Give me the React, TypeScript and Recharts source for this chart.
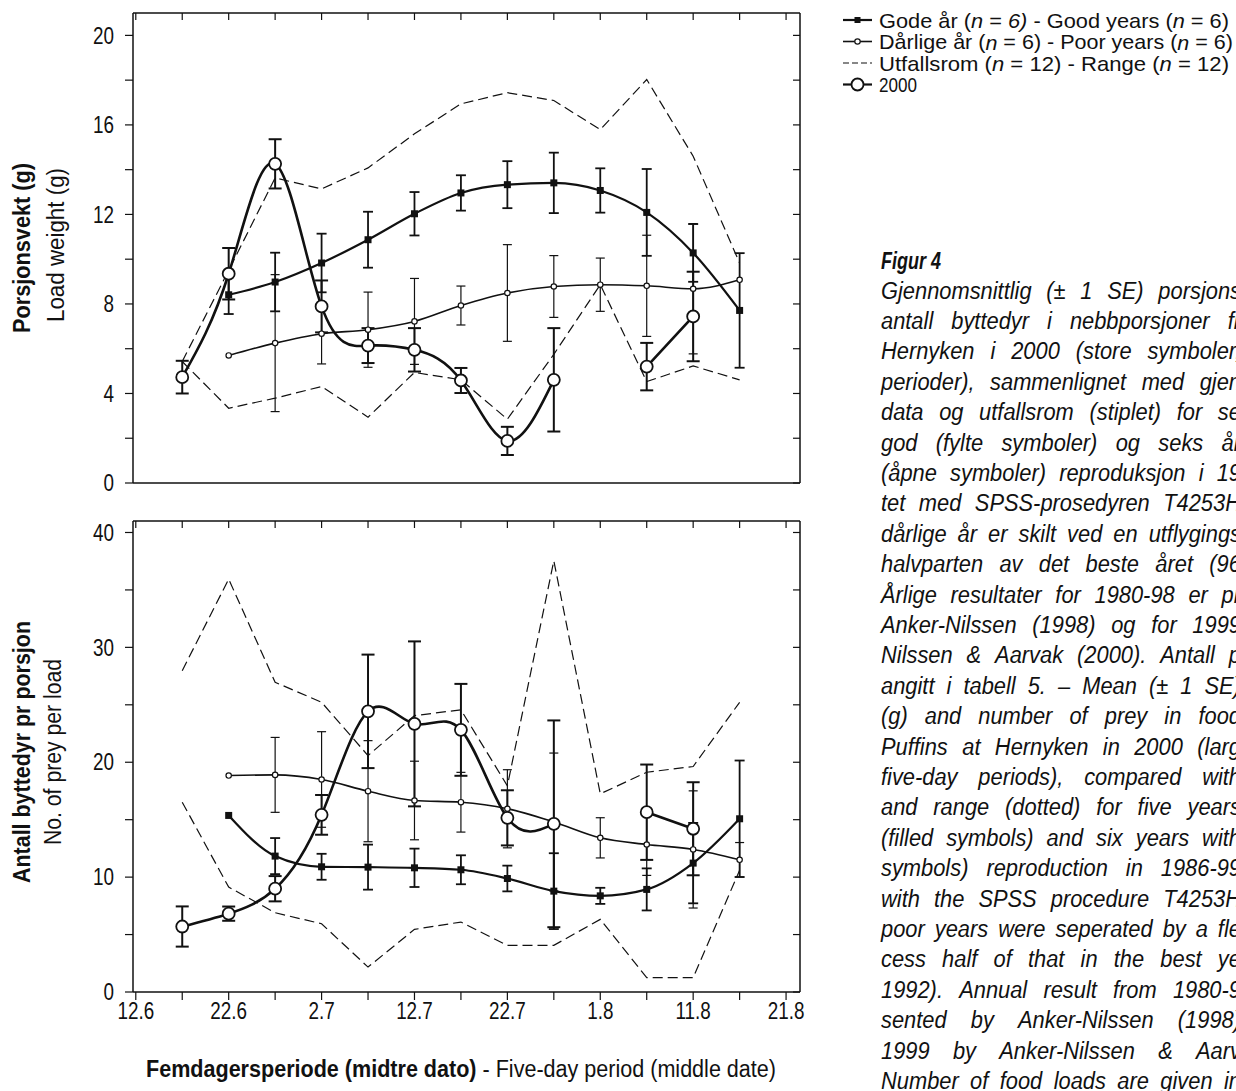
import React from 'react';
import { LineChart, Line, XAxis, YAxis, ErrorBar } from 'recharts';

const FONT = "'Liberation Sans Narrow', 'Arial Narrow', 'Liberation Sans', Arial, sans-serif";
const INK = '#111';
const NARROW = 0.82;
const CAPTION_SCALE = 0.95;

// five-day periods, x = days after 12.6
const periodDays = [5, 10, 15, 20, 25, 30, 35, 40, 45, 50, 55, 60, 65];

const xTicks = [0, 5, 10, 15, 20, 25, 30, 35, 40, 45, 50, 55, 60, 65, 70];
const xTickLabels = ['12.6', '', '22.6', '', '2.7', '', '12.7', '', '22.7', '', '1.8', '', '11.8', '', '21.8'];
const X_DOMAIN: [number, number] = [-0.3, 71.5];

const weightTicks = [0, 2, 4, 6, 8, 10, 12, 14, 16, 18, 20];
const weightTickLabels = ['0', '', '4', '', '8', '', '12', '', '16', '', '20'];
const preyTicks = [0, 5, 10, 15, 20, 25, 30, 35, 40];
const preyTickLabels = ['0', '', '10', '', '20', '', '30', '', '40'];

// Porsjonsvekt (g) - load weight
const weightGood = [null, 8.41, 8.98, 9.83, 10.87, 12.03, 12.96, 13.33, 13.41, 13.07, 12.09, 10.28, 7.71];
const weightGoodSE = [null, 0.86, 1.31, 1.31, 1.25, 0.97, 0.79, 1.05, 1.35, 0.99, 1.94, 1.29, 2.56];
const weightPoor = [null, 5.7, 6.25, 6.67, 6.85, 7.22, 7.93, 8.49, 8.78, 8.86, 8.81, 8.68, 9.08];
const weightPoorSE = [null, 0, 3.06, 1.35, 1.68, 1.92, 0.87, 2.16, 1.38, 1.19, 2.26, 2.91, 0];
const weight2000 = [4.73, 9.35, 14.26, 7.89, 6.14, 5.95, 4.58, 1.88, 4.61, null, 5.2, 7.44, null];
const weight2000SE = [0.73, 1.15, 1.1, 1.16, 0.78, 0.97, 0.56, 0.63, 2.31, null, 1.06, 2.0, null];
const weightMax = [5.43, 9.5, 13.63, 13.14, 14.08, 15.6, 16.94, 17.44, 17.09, 15.79, 18.03, 14.6, 9.83];
const weightMin = [5.43, 3.34, 3.79, 4.31, 2.94, 4.94, 4.61, 2.85, 5.75, 8.86, 4.53, 5.23, 4.61];

// Antall byttedyr pr porsjon - prey per load
const preyGood = [null, 15.37, 11.83, 10.9, 10.87, 10.81, 10.64, 9.88, 8.78, 8.37, 8.93, 11.22, 15.08];
const preyGoodSE = [null, 0, 1.57, 1.13, 1.96, 1.67, 1.26, 1.12, 3.3, 0.7, 1.83, 3.5, 5.07];
const preyPoor = [null, 18.84, 18.9, 18.5, 17.48, 16.67, 16.52, 15.95, 14.8, 13.42, 12.84, 12.41, 11.51];
const preyPoorSE = [null, 0, 3.26, 4.16, 4.4, 3.42, 2.6, 3.4, 6.0, 1.75, 2.69, 5.1, 1.5];
const prey2000 = [5.7, 6.82, 8.99, 15.42, 24.43, 23.34, 22.82, 15.16, 14.64, null, 15.65, 14.21, null];
const prey2000SE = [1.75, 0.62, 1.1, 1.73, 4.94, 7.18, 4.0, 2.4, 9.0, null, 4.15, 4.05, null];
const preyMax = [27.97, 35.94, 26.96, 25.22, 20.58, 24.06, 24.56, 17.95, 37.54, 17.25, 19.13, 19.63, 25.22];
const preyMin = [16.52, 9.13, 6.9, 5.94, 2.17, 5.45, 6.09, 4.06, 4.06, 6.32, 1.25, 1.25, 10.6];

const captionLines = [
  'Gjennomsnittlig (± 1 SE) porsjons',
  'antall byttedyr i nebbporsjoner fr',
  'Hernyken i 2000 (store symboler,',
  'perioder), sammenlignet med gjen',
  'data og utfallsrom (stiplet) for se',
  'god (fylte symboler) og seks år',
  '(åpne symboler) reproduksjon i 19',
  'tet med SPSS-prosedyren T4253H',
  'dårlige år er skilt ved en utflygings',
  'halvparten av det beste året (96',
  'Årlige resultater for 1980-98 er pr',
  'Anker-Nilssen (1998) og for 1999',
  'Nilssen & Aarvak (2000). Antall p',
  'angitt i tabell 5. – Mean (± 1 SE)',
  '(g) and number of prey in food',
  'Puffins at Hernyken in 2000 (larg',
  'five-day periods), compared with',
  'and range (dotted) for five years',
  '(filled symbols) and six years with',
  'symbols) reproduction in 1986-99',
  'with the SPSS procedure T4253H',
  'poor years were seperated by a fle',
  'cess half of that in the best ye',
  '1992). Annual result from 1980-9',
  'sented by Anker-Nilssen (1998)',
  '1999 by Anker-Nilssen & Aarv',
  'Number of food loads are given in',
];

const buildRows = (good: any[], goodSE: any[], poor: any[], poorSE: any[], y2000: any[], se2000: any[], hi: number[], lo: number[]) =>
  periodDays.map((day, i) => ({
    day,
    good: good[i],
    goodSE: goodSE[i],
    poor: poor[i],
    poorSE: poorSE[i],
    y2000: y2000[i],
    se2000: se2000[i],
    hi: hi[i],
    lo: lo[i],
  }));

const weightRows = buildRows(weightGood, weightGoodSE, weightPoor, weightPoorSE, weight2000, weight2000SE, weightMax, weightMin);
const preyRows = buildRows(preyGood, preyGoodSE, preyPoor, preyPoorSE, prey2000, prey2000SE, preyMax, preyMin);

const SquareDot = (props: any) => {
  const { cx, cy, index } = props;
  if (cx == null || cy == null) return <g key={`sq-${index}`} />;
  return <rect key={`sq-${index}`} x={cx - 3.5} y={cy - 3.5} width={7} height={7} fill={INK} />;
};

// tick labels drawn a little condensed, like the narrow face of the original
const makeTick = (values: number[], labels: string[], bottom: boolean) => (props: any) => {
  const { x, y, payload, textAnchor } = props;
  const label = labels[values.indexOf(payload.value)] ?? '';
  if (!label) return <g />;
  return (
    <g transform={`translate(${x},${y}) scale(${NARROW},1)`}>
      <text x={0} y={0} dy={bottom ? '0.71em' : '0.355em'} textAnchor={textAnchor} fontSize={23} fontFamily={FONT} fill={INK}>
        {label}
      </text>
    </g>
  );
};

const XTick = makeTick(xTicks, xTickLabels, true);
const WeightTick = makeTick(weightTicks, weightTickLabels, false);
const PreyTick = makeTick(preyTicks, preyTickLabels, false);

const axisLine = { stroke: INK, strokeWidth: 1.5 };
const tickLine = { stroke: INK, strokeWidth: 1.2 };

interface PanelProps {
  rows: any[];
  top: number;
  height: number;
  marginTop: number;
  marginBottom: number;
  yDomain: [number, number];
  yTicks: number[];
  yTick: any;
  showXLabels: boolean;
}

function Panel({ rows, top, height, marginTop, marginBottom, yDomain, yTicks, yTick, showXLabels }: PanelProps) {
  const blank = () => '';
  return (
    <div style={{ position: 'absolute', left: 0, top }}>
      <LineChart width={830} height={height} data={rows} margin={{ top: marginTop, right: 30, bottom: marginBottom, left: 73 }}>
        <XAxis dataKey="day" type="number" domain={X_DOMAIN} ticks={xTicks} interval={0} allowDataOverflow
          tick={showXLabels ? XTick : false} tickSize={8} tickMargin={3} height={30} axisLine={axisLine} tickLine={tickLine} />
        <XAxis xAxisId="top" orientation="top" mirror dataKey="day" type="number" domain={X_DOMAIN} ticks={xTicks}
          interval={0} allowDataOverflow tickFormatter={blank} tickSize={7} axisLine={axisLine} tickLine={tickLine} />
        <YAxis type="number" domain={yDomain} ticks={yTicks} interval={0} allowDataOverflow tick={yTick}
          width={60} tickSize={8} tickMargin={11} axisLine={axisLine} tickLine={tickLine} />
        <YAxis yAxisId="right" orientation="right" mirror type="number" domain={yDomain} ticks={yTicks} interval={0}
          allowDataOverflow tickFormatter={blank} tickSize={7} axisLine={axisLine} tickLine={tickLine} />

        <Line dataKey="hi" type="linear" stroke={INK} strokeWidth={1.2} strokeDasharray="10 5" dot={false} isAnimationActive={false} />
        <Line dataKey="lo" type="linear" stroke={INK} strokeWidth={1.2} strokeDasharray="10 5" dot={false} isAnimationActive={false} />

        <Line dataKey="poor" type="monotone" stroke={INK} strokeWidth={1.6} isAnimationActive={false}
          dot={{ r: 2.7, fill: '#fff', stroke: INK, strokeWidth: 1.2 }}>
          <ErrorBar dataKey="poorSE" direction="y" width={4.5} stroke={INK} strokeWidth={1.2} isAnimationActive={false} />
        </Line>
        <Line dataKey="good" type="monotone" stroke={INK} strokeWidth={2.2} isAnimationActive={false} dot={SquareDot}>
          <ErrorBar dataKey="goodSE" direction="y" width={5} stroke={INK} strokeWidth={1.8} isAnimationActive={false} />
        </Line>
        <Line dataKey="y2000" type="natural" stroke={INK} strokeWidth={2.6} isAnimationActive={false}
          dot={{ r: 6, fill: '#fff', stroke: INK, strokeWidth: 1.8 }}>
          <ErrorBar dataKey="se2000" direction="y" width={6.5} stroke={INK} strokeWidth={2} isAnimationActive={false} />
        </Line>
      </LineChart>
    </div>
  );
}

const legendRows = [
  { y: 20, kind: 'good' },
  { y: 41.5, kind: 'poor' },
  { y: 63, kind: 'range' },
  { y: 84.5, kind: 'y2000' },
];

function LegendSymbol({ y, kind }: { y: number; kind: string }) {
  const x1 = 843;
  const x2 = 872;
  const mid = (x1 + x2) / 2;
  if (kind === 'range') {
    return <line x1={x1} y1={y} x2={x2} y2={y} stroke={INK} strokeWidth={1.2} strokeDasharray="6 3" />;
  }
  return (
    <g>
      <line x1={x1} y1={y} x2={x2} y2={y} stroke={INK} strokeWidth={kind === 'poor' ? 1.6 : 2.2} />
      {kind === 'good' && <rect x={mid - 3} y={y - 3} width={6} height={6} fill={INK} />}
      {kind === 'poor' && <circle cx={mid} cy={y} r={2.7} fill="#fff" stroke={INK} strokeWidth={1.2} />}
      {kind === 'y2000' && <circle cx={mid} cy={y} r={6} fill="#fff" stroke={INK} strokeWidth={1.8} />}
    </g>
  );
}

function Overlay() {
  const it = { fontStyle: 'italic' as const };
  const fit = { lengthAdjust: 'spacingAndGlyphs' as const };
  return (
    <svg width={1236} height={1091} style={{ position: 'absolute', left: 0, top: 0, pointerEvents: 'none' }}>
      <g fontFamily={FONT} fill={INK}>
        {/* y-axis titles */}
        <g transform="translate(22,248) rotate(-90)">
          <text textAnchor="middle" dominantBaseline="central" fontSize={23} fontWeight="bold" textLength={170} {...fit}>Porsjonsvekt (g)</text>
        </g>
        <g transform="translate(56,245) rotate(-90)">
          <text textAnchor="middle" dominantBaseline="central" fontSize={23} textLength={154} {...fit}>Load weight (g)</text>
        </g>
        <g transform="translate(22,752) rotate(-90)">
          <text textAnchor="middle" dominantBaseline="central" fontSize={23} fontWeight="bold" textLength={262} {...fit}>Antall byttedyr pr porsjon</text>
        </g>
        <g transform="translate(53,752) rotate(-90)">
          <text textAnchor="middle" dominantBaseline="central" fontSize={23} textLength={186} {...fit}>No. of prey per load</text>
        </g>

        {/* x-axis title */}
        <text x={461} y={1069} textAnchor="middle" dominantBaseline="central" fontSize={23} textLength={630} {...fit}>
          <tspan fontWeight="bold">Femdagersperiode (midtre dato)</tspan>
          <tspan> - Five-day period (middle date)</tspan>
        </text>

        {/* legend */}
        {legendRows.map((r) => (
          <LegendSymbol key={r.kind} y={r.y} kind={r.kind} />
        ))}
        <text x={879} y={20} dominantBaseline="central" fontSize={21} textLength={350} {...fit}>
          Gode år (<tspan {...it}>n</tspan> = <tspan {...it}>6)</tspan> - Good years (<tspan {...it}>n</tspan> = 6)
        </text>
        <text x={879} y={41.5} dominantBaseline="central" fontSize={21} textLength={354} {...fit}>
          Dårlige år (<tspan {...it}>n</tspan> = 6) - Poor years (<tspan {...it}>n</tspan> = 6)
        </text>
        <text x={879} y={63} dominantBaseline="central" fontSize={21} textLength={350} {...fit}>
          Utfallsrom (<tspan {...it}>n</tspan> = 12) - Range (<tspan {...it}>n</tspan> = 12)
        </text>
        <text x={879} y={84.5} dominantBaseline="central" fontSize={21} textLength={38} {...fit}>2000</text>

        <text x={881} y={261} dominantBaseline="central" fontSize={23} fontWeight="bold" fontStyle="italic" textLength={60} {...fit}>Figur 4</text>
      </g>
    </svg>
  );
}

function Caption() {
  return (
    <>
      {captionLines.map((line, i) => (
        <div
          key={i}
          style={{
            position: 'absolute',
            left: 881,
            top: 276 + i * 30.4,
            width: 360 / CAPTION_SCALE,
            height: 30,
            display: 'flex',
            justifyContent: 'space-between',
            alignItems: 'center',
            columnGap: 4,
            transform: `scaleX(${CAPTION_SCALE})`,
            transformOrigin: 'left center',
            fontFamily: FONT,
            fontStyle: 'italic',
            fontSize: 23,
            color: INK,
            whiteSpace: 'nowrap',
          }}
        >
          {line.split(' ').map((w, j) => (
            <span key={j}>{w}</span>
          ))}
        </div>
      ))}
    </>
  );
}

export default function App() {
  return (
    <div style={{ position: 'absolute', left: 0, top: 0, width: 1236, height: 1091, overflow: 'hidden', background: '#fff' }}>
      <Panel rows={weightRows} top={0} height={520} marginTop={13} marginBottom={7} yDomain={[0, 21]}
        yTicks={weightTicks} yTick={WeightTick} showXLabels={false} />
      <Panel rows={preyRows} top={500} height={540} marginTop={21} marginBottom={18} yDomain={[0, 41]}
        yTicks={preyTicks} yTick={PreyTick} showXLabels />
      <Overlay />
      <Caption />
    </div>
  );
}
